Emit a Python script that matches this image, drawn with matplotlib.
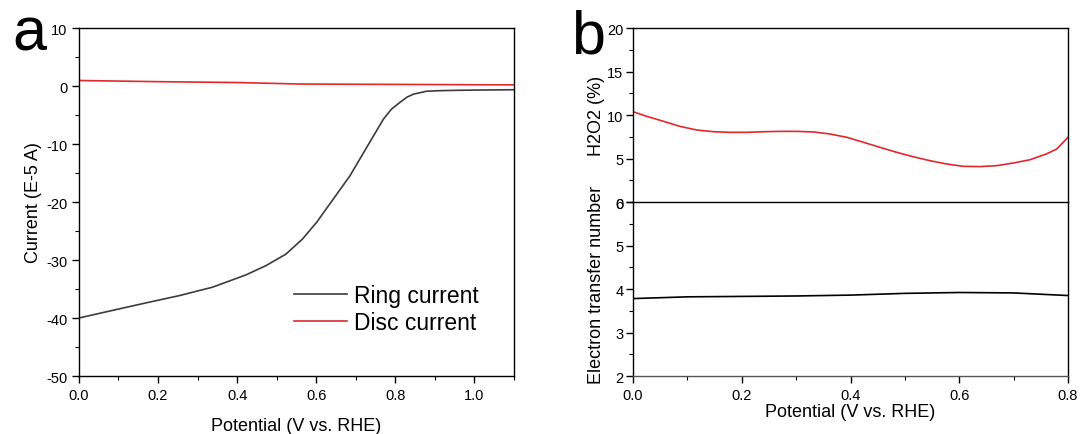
import numpy as np
import matplotlib
matplotlib.use("Agg")
import matplotlib.pyplot as plt
from matplotlib.ticker import MultipleLocator

plt.rcParams['font.family'] = ['Liberation Sans', 'DejaVu Sans']
plt.rcParams['axes.unicode_minus'] = False

# Panel a data
ring_x = [0.0, 0.084, 0.169, 0.253, 0.337, 0.421, 0.472, 0.523, 0.565, 0.601,
          0.643, 0.685, 0.73, 0.770, 0.79, 0.812, 0.83, 0.846, 0.879, 0.913,
          0.95, 1.0, 1.05, 1.1]
ring_y = [-40.0, -38.7, -37.4, -36.15, -34.7, -32.6, -31.0, -29.0, -26.4, -23.5,
          -19.5, -15.5, -10.3, -5.7, -4.0, -2.8, -1.9, -1.4, -0.9, -0.8,
          -0.75, -0.7, -0.67, -0.64]
disc_x = [0.0, 0.2, 0.4, 0.56, 0.7, 0.8, 0.9, 1.0, 1.1]
disc_y = [0.95, 0.75, 0.6, 0.34, 0.3, 0.28, 0.25, 0.22, 0.2]

# Panel b data
h2o2_x = [0.0, 0.025, 0.056, 0.086, 0.117, 0.148, 0.178, 0.209, 0.240, 0.270,
          0.301, 0.332, 0.362, 0.393, 0.424, 0.454, 0.485, 0.515, 0.546, 0.577,
          0.607, 0.638, 0.669, 0.699, 0.730, 0.760, 0.779, 0.797, 0.8]
h2o2_y = [10.38, 9.85, 9.28, 8.70, 8.28, 8.08, 8.01, 8.01, 8.08, 8.12,
          8.12, 8.05, 7.82, 7.44, 6.86, 6.29, 5.71, 5.21, 4.75, 4.37,
          4.10, 4.07, 4.18, 4.48, 4.86, 5.52, 6.09, 7.24, 7.45]
n_x = [0.0, 0.1, 0.2, 0.3, 0.4, 0.5, 0.6, 0.7, 0.8]
n_y = [3.78, 3.82, 3.83, 3.84, 3.86, 3.90, 3.92, 3.91, 3.85]

ring_color = '#3c3c3c'
red = '#e2282c'

fig = plt.figure(figsize=(10.83, 4.35), dpi=100)

def style(ax, fs=10.5):
    ax.tick_params(which='both', direction='out', labelsize=fs, top=False, right=False)
    ax.tick_params(which='major', length=5, width=1)
    ax.tick_params(which='minor', length=3, width=0.8)
    for s in ax.spines.values():
        s.set_linewidth(1)

# Panel a
axa = fig.add_axes([0.0729, 0.1333, 0.4017, 0.8])
axa.plot(ring_x, ring_y, color=ring_color, lw=1.2, label='Ring current')
axa.plot(disc_x, disc_y, color=red, lw=1.2, label='Disc current')
axa.set_xlim(0, 1.1)
axa.set_ylim(-50, 10)
axa.xaxis.set_major_locator(MultipleLocator(0.2))
axa.xaxis.set_minor_locator(MultipleLocator(0.1))
axa.yaxis.set_major_locator(MultipleLocator(10))
axa.yaxis.set_minor_locator(MultipleLocator(5))
axa.xaxis.set_major_formatter(plt.FuncFormatter(lambda v, p: f"{v:.1f}"))
style(axa)
axa.set_xlabel('Potential (V vs. RHE)', fontsize=13, labelpad=11)
axa.set_ylabel('Current (E-5 A)', fontsize=13)
axa.yaxis.set_label_coords(-0.085, 0.5)
axa.legend(loc='lower right', bbox_to_anchor=(0.939, 0.094), frameon=False,
           fontsize=16.5, handlelength=2.3, handletextpad=0.3, labelspacing=0.2,
           borderaxespad=0)
fig.text(0.011, 0.885, 'a', fontsize=44, ha='left', va='baseline')

# Panel b lower
axl = fig.add_axes([0.5845, 0.1333, 0.4017, 0.4])
axl.patch.set_alpha(0)
axl.plot(n_x, n_y, color='black', lw=1.2)
axl.set_xlim(0, 0.8)
axl.set_ylim(2, 6)
axl.xaxis.set_major_locator(MultipleLocator(0.2))
axl.xaxis.set_minor_locator(MultipleLocator(0.1))
axl.yaxis.set_major_locator(MultipleLocator(1))
axl.yaxis.set_minor_locator(MultipleLocator(0.5))
axl.xaxis.set_major_formatter(plt.FuncFormatter(lambda v, p: f"{v:.1f}"))
style(axl)
axl.tick_params(axis='y', which='both', pad=2)
axl.spines['top'].set_visible(False)
axl.spines['bottom'].set_color('#555555')
axl.set_xlabel('Potential (V vs. RHE)', fontsize=13, labelpad=1)
axl.set_ylabel('Electron transfer number', fontsize=13)
axl.yaxis.set_label_coords(-0.064, 0.53)

# Panel b upper
axu = fig.add_axes([0.5845, 0.5333, 0.4017, 0.4])
axu.patch.set_alpha(0)
axu.plot(h2o2_x, h2o2_y, color=red, lw=1.2)
axu.set_xlim(0, 0.8)
axu.set_ylim(0, 20)
axu.yaxis.set_major_locator(MultipleLocator(5))
axu.yaxis.set_minor_locator(MultipleLocator(2.5))
style(axu)
axu.tick_params(axis='y', which='both', pad=2)
axu.tick_params(axis='x', which='both', bottom=False, labelbottom=False)
axu.set_ylabel('H2O2 (%)', fontsize=13)
axu.yaxis.set_label_coords(-0.064, 0.5)
fig.text(0.527, 0.878, 'b', fontsize=44, ha='left', va='baseline')

fig.savefig('out.png', dpi=100)
